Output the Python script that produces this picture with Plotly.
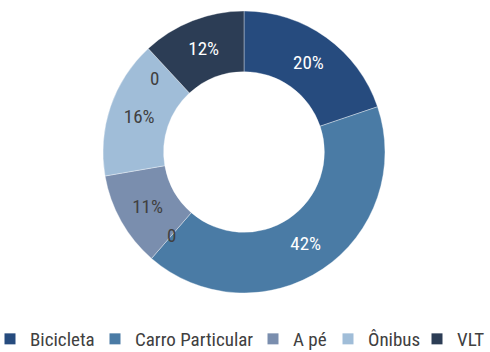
import math
import plotly.graph_objects as go

# Modal split (share of trips, %)
categories = ["Bicicleta", "Carro Particular", "A pé", "Ônibus", "VLT"]
shares = [20, 42, 11, 16, 12]
colors = ["#264b7e", "#4a7ba5", "#7a8eae", "#a0bdd8", "#2c3d55"]
text_colors = ["#ffffff", "#ffffff", "#404040", "#404040", "#ffffff"]

# Zero-valued entries whose labels sit between slices
zero_after = ["Carro Particular", "Ônibus"]
zero_values = [0, 0]
zero_nudge_deg = [0, -8]
zero_radius_px = [110, 116]

W, H = 490, 352
FONT = "Roboto Condensed, DejaVu Sans Condensed, sans-serif"
FONT_SIZE = 19

# Donut geometry (pixels)
cx, cy, R = 244, 152, 141
dom_y = [1 - (cy + R) / H, 1 - (cy - R) / H]
dom_x = [(cx - R) / W, (cx + R) / W]

# Left edge (px) of each legend entry's label
legend_text_x = [28, 133, 291, 366, 460]

fig = go.Figure(
    go.Pie(
        labels=categories,
        values=shares,
        text=[f"{v}%" for v in shares],
        texttemplate="%{text}",
        textposition="inside",
        insidetextorientation="horizontal",
        textfont=dict(family=FONT, size=FONT_SIZE, color=text_colors),
        hole=0.57,
        sort=False,
        direction="clockwise",
        rotation=0,
        marker=dict(colors=colors, line=dict(color="rgba(255,255,255,0.6)", width=0.6)),
        domain=dict(x=dom_x, y=dom_y),
        hoverinfo="label+percent",
        showlegend=False,
    )
)

total = sum(shares)
for name, val, nudge, rad in zip(zero_after, zero_values, zero_nudge_deg, zero_radius_px):
    idx = categories.index(name)
    cum = sum(shares[: idx + 1]) / total * 360 + nudge
    th = math.radians(cum)
    px = cx + rad * math.sin(th)
    py = cy - rad * math.cos(th)
    fig.add_annotation(
        x=px / W, y=1 - py / H, xref="paper", yref="paper",
        xanchor="center", yanchor="middle",
        text=str(val), showarrow=False,
        font=dict(family=FONT, size=FONT_SIZE, color="#404040"),
    )

# One legend per category so the row keeps its own spacing
legend_layout = {}
last = len(categories) - 1
for i, (name, col) in enumerate(zip(categories, colors)):
    key = "legend" if i == 0 else f"legend{i + 1}"
    fig.add_trace(
        go.Scatter(
            x=[None], y=[None], mode="markers", name=name,
            marker=dict(symbol="square", size=11, color=col),
            legend=key, showlegend=True, hoverinfo="skip",
        )
    )
    if i == last:
        lx, anchor = 1.0, "right"
    else:
        lx, anchor = (legend_text_x[i] - 38) / W, "left"
    legend_layout[key] = dict(
        orientation="h",
        x=lx, xanchor=anchor,
        y=-6 / H, yanchor="bottom",
        bgcolor="rgba(0,0,0,0)",
        font=dict(family=FONT, size=FONT_SIZE, color="#404040"),
        itemclick=False, itemdoubleclick=False,
    )

fig.update_layout(
    width=W,
    height=H,
    margin=dict(l=0, r=0, t=0, b=0, autoexpand=False),
    paper_bgcolor="white",
    plot_bgcolor="white",
    xaxis=dict(visible=False),
    yaxis=dict(visible=False),
    **legend_layout,
)

fig.write_html("out.html")
